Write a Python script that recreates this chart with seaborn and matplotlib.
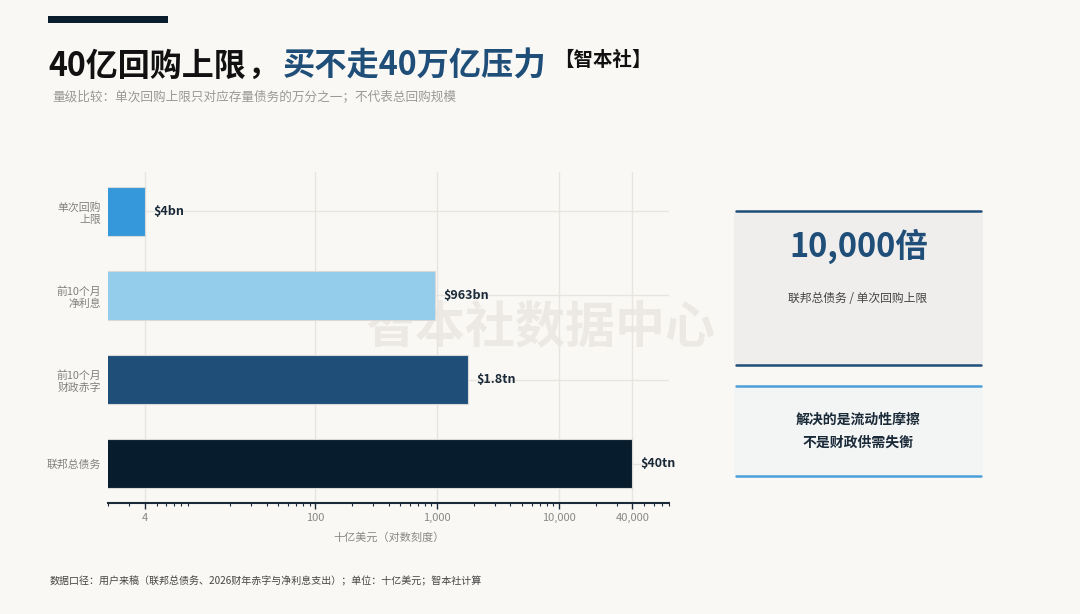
import matplotlib
matplotlib.use("Agg")
import matplotlib.pyplot as plt
import seaborn as sns
import numpy as np
import pandas as pd
from matplotlib.patches import FancyBboxPatch, Rectangle
from matplotlib.ticker import FixedLocator, FuncFormatter, LogLocator, NullFormatter

# ---- data ----
categories = ["单次回购\n上限", "前10个月\n净利息", "前10个月\n财政赤字", "联邦总债务"]
values = [4, 963, 1800, 40000]           # 十亿美元
value_labels = ["$4bn", "$963bn", "$1.8tn", "$40tn"]
bar_colors = ["#3498DB", "#94CDEB", "#1F4E79", "#071C2C"]
x_ticks = [4, 100, 1000, 10000, 40000]

BG = "#FAF8F4"
sns.set_theme(style="white")
plt.rcParams["font.family"] = ["Noto Sans CJK SC", "DejaVu Sans"]
plt.rcParams["axes.unicode_minus"] = False

fig = plt.figure(figsize=(10.8, 6.14), dpi=100, facecolor=BG)
ax = fig.add_axes([108/1080, 1-503/614, (669-108)/1080, (503-172)/614])
ax.patch.set_alpha(0)

df = pd.DataFrame({"cat": categories, "val": values})
sns.barplot(data=df, x="val", y="cat", hue="cat", palette=bar_colors, orient="h",
            width=0.58, legend=False, ax=ax, saturation=1,
            edgecolor="#D9D9D9", linewidth=0.8)
ax.set_xscale("log")

ax.set_xlim(2, 80000)
ax.set_ylim(3.47, -0.47)
ax.xaxis.set_major_locator(FixedLocator(x_ticks))
ax.xaxis.set_major_formatter(FuncFormatter(lambda v, p: f"{int(v):,}"))
ax.xaxis.set_minor_locator(LogLocator(base=10, subs=np.arange(2, 10)))
ax.xaxis.set_minor_formatter(NullFormatter())
ax.tick_params(axis="x", which="major", length=4, width=1, color="#1A2A38",
               labelsize=8, labelcolor="#888888", pad=3, bottom=True)
ax.tick_params(axis="x", which="minor", length=2.5, width=0.8, color="#1A2A38", bottom=True)
ax.tick_params(axis="y", length=0, labelsize=7.8, labelcolor="#808080", pad=5)
for lbl in ax.get_yticklabels():
    lbl.set_multialignment("right")

ax.grid(axis="x", which="major", color="#E8E5E0", linewidth=1)
ax.grid(axis="y", color="#E8E5E0", linewidth=1)
ax.set_axisbelow(True)
for s in ["top", "right", "left"]:
    ax.spines[s].set_visible(False)
ax.spines["bottom"].set_color("#1A2A38")
ax.spines["bottom"].set_linewidth(1.5)

ax.set_ylabel("")
ax.set_xlabel("十亿美元（对数刻度）", fontsize=8, color="#888888", labelpad=7)

for i, (v, t) in enumerate(zip(values, value_labels)):
    ax.annotate(t, (v, i), xytext=(6, 0), textcoords="offset points",
                ha="left", va="center", fontsize=9, fontweight="bold", color="#1A2A38")

# watermark (behind the plot)
fig.text(540/1080, 1-328/614, "智本社数据中心", fontsize=36, fontweight="bold",
         color="#ECE9E4", ha="center", va="center", zorder=-1)

# header bar
fig.add_artist(Rectangle((48/1080, 1-23/614), 120/1080, 7/614, transform=fig.transFigure,
                         facecolor="#0B1E2D", edgecolor="none"))

renderer = fig.canvas.get_renderer()

def fit_text(x0, x1, y, s, size, **kw):
    t = fig.text(x0/1080, 1-y/614, s, fontsize=size, ha="left", va="center", **kw)
    w = t.get_window_extent(renderer).width
    t.set_fontsize(size * (x1 - x0) / w)
    return t

# title
fit_text(48, 246, 66, "40亿回购上限", 23, fontweight="bold", color="#111111")
fig.text(247/1080, 1-66/614, "，", fontsize=22, fontweight="bold", color="#111111",
         ha="left", va="center")
fit_text(283, 547, 66, "买不走40万亿压力", 23, fontweight="bold", color="#1F4E79")
fig.text(554/1080, 1-60/614, "【智本社】", fontsize=14, fontweight="bold",
         color="#111111", ha="left", va="center")
fig.text(52/1080, 1-97/614, "量级比较：单次回购上限只对应存量债务的万分之一；不代表总回购规模",
         fontsize=9.1, color="#999999", ha="left", va="center")

# footer
fig.text(50/1080, 1-581/614, "数据口径：用户来稿（联邦总债务、2026财年赤字与净利息支出）；单位：十亿美元；智本社计算",
         fontsize=7.2, color="#444444", ha="left", va="center")

# right boxes
def card(x0, y0, x1, y1, fill, edge):
    X0, X1 = x0/1080, x1/1080
    Y0, Y1 = 1-y1/614, 1-y0/614
    fig.add_artist(FancyBboxPatch((X0, Y0), X1-X0, Y1-Y0,
                                  boxstyle="round,pad=0,rounding_size=0.004",
                                  transform=fig.transFigure, facecolor=fill,
                                  edgecolor="none"))
    for yy in (Y0, Y1):
        fig.add_artist(plt.Line2D([X0+0.002, X1-0.002], [yy, yy], transform=fig.transFigure,
                                  color=edge, linewidth=1.8, solid_capstyle="round"))

card(734, 211, 983, 365, "#F0EEEC", "#1F4E79")
card(734, 386, 983, 476, "#F3F4F4", "#4A9FD8")

fig.text(859/1080, 1-246/614, "10,000倍", fontsize=23.5, fontweight="bold",
         color="#1F4E79", ha="center", va="center")
fig.text(858/1080, 1-298/614, "联邦总债务 / 单次回购上限", fontsize=8.5,
         color="#444444", ha="center", va="center")
fig.text(858/1080, 1-420/614, "解决的是流动性摩擦", fontsize=10, fontweight="bold",
         color="#1A2A38", ha="center", va="center")
fig.text(858/1080, 1-443/614, "不是财政供需失衡", fontsize=10, fontweight="bold",
         color="#1A2A38", ha="center", va="center")

fig.savefig("out.png", dpi=100, facecolor=BG)
